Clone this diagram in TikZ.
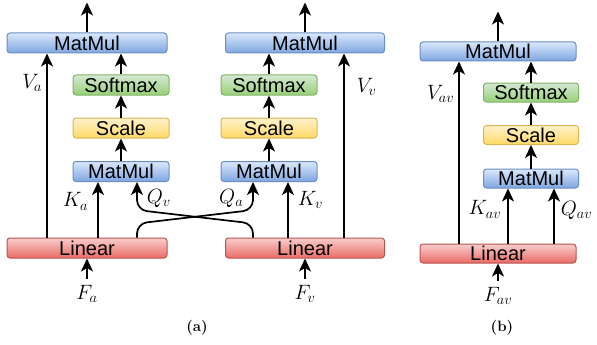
\documentclass[tikz,border=0pt]{standalone}
\usepackage{fontspec}
\newfontfamily\boxfont{Liberation Sans}
\usetikzlibrary{positioning, calc, arrows.meta}

\definecolor{mmTop}{HTML}{DAE8FC}
\definecolor{mmBot}{HTML}{7EA6E0}
\definecolor{mmLine}{HTML}{6C8EBF}
\definecolor{smTop}{HTML}{D5E8D4}
\definecolor{smBot}{HTML}{97D077}
\definecolor{smLine}{HTML}{82B366}
\definecolor{scTop}{HTML}{FFF2CC}
\definecolor{scBot}{HTML}{FFD966}
\definecolor{scLine}{HTML}{D6B656}
\definecolor{linTop}{HTML}{F8CECC}
\definecolor{linBot}{HTML}{EA6B66}
\definecolor{linLine}{HTML}{B85450}

\begin{document}
\begin{tikzpicture}[
    x=1pt, y=-1pt,
    on grid,
    box/.style={rounded corners=3pt, line width=1pt, minimum height=20pt, inner sep=0pt,
        text height=14.3pt, text depth=0pt, font=\boxfont\fontsize{20}{24}\selectfont},
    mmbox/.style={box, draw=mmLine, top color=mmTop, bottom color=mmBot, minimum width=96pt},
    smbox/.style={box, draw=smLine, top color=smTop, bottom color=smBot, minimum width=96pt},
    scbox/.style={box, draw=scLine, top color=scTop, bottom color=scBot, minimum width=96pt},
    linbox/.style={box, draw=linLine, top color=linTop, bottom color=linBot, minimum width=160pt},
    tag/.style={inner sep=0pt, font=\fontsize{20}{24}\selectfont},
    arr/.style={-{Stealth[length=13pt, width=12pt, inset=3.5pt]}, line width=1.7pt},
    captag/.style={font=\bfseries\fontsize{15}{18}\selectfont}
]
   \useasboundingbox (0,0) rectangle (597,345);

   % (a) audio branch
   \node[mmbox, minimum width=160pt] (outA) at (87,43) {MatMul};
   \node[smbox] (smA) [below right=42pt and 34pt of outA] {Softmax};
   \node[scbox] (scA) [below=43pt of smA] {Scale};
   \node[mmbox] (mmA) [below=43.5pt of scA] {MatMul};
   \node[linbox] (linA) [below=205pt of outA] {Linear};
   \node[tag, inner sep=6pt] (fA) [below=46pt of linA] {$F_a$};

   % (a) video branch
   \node[mmbox, minimum width=159pt] (outV) at (305,43) {MatMul};
   \node[smbox] (smV) [below left=42pt and 36pt of outV] {Softmax};
   \node[scbox] (scV) [below=43pt of smV] {Scale};
   \node[mmbox] (mmV) [below=43.5pt of scV] {MatMul};
   \node[linbox, minimum width=159pt] (linV) [below=205pt of outV] {Linear};
   \node[tag, inner sep=6pt] (fV) [below=46pt of linV] {$F_v$};

   % (b) joint branch
   \node[mmbox, minimum width=156pt, minimum height=19pt] (outAV) at (498,51.5) {MatMul};
   \node[smbox, minimum width=95pt, minimum height=19pt] (smAV) [below right=41pt and 33pt of outAV] {Softmax};
   \node[scbox, minimum width=95pt, minimum height=19pt] (scAV) [below=42.5pt of smAV] {Scale};
   \node[mmbox, minimum width=95pt, minimum height=19pt] (mmAV) [below=43.5pt of scAV] {MatMul};
   \node[linbox, minimum width=156pt, minimum height=19pt] (linAV) [below=202pt of outAV] {Linear};
   \node[tag, inner sep=6pt] (fAV) [below=42.5pt of linAV] {$F_{av}$};

   % captions
   \node[captag] (capA) at (197,328) {(a)};
   \node[captag] (capB) at (502,328) {(b)};

   % free ends and entry points
   \coordinate[above=30pt of outA.north] (upA);
   \coordinate[above=30pt of outV.north] (upV);
   \coordinate[above=30pt of outAV.north] (upAV);
   \coordinate (vA) at ($(outA.south)+(-40,0)$);
   \coordinate (kA) at ($(mmA.south)+(-23,0)$);
   \coordinate (qA) at ($(mmA.south)+(16,0)$);
   \coordinate (qV) at ($(mmV.south)+(-16,0)$);
   \coordinate (kV) at ($(mmV.south)+(19,0)$);
   \coordinate (vV) at ($(outV.south)+(39,0)$);
   \coordinate (vAV) at ($(outAV.south)+(-39,0)$);
   \coordinate (kAV) at ($(mmAV.south)+(-23,0)$);
   \coordinate (qAV) at ($(mmAV.south)+(23,0)$);

   % stacks
   \foreach \s in {A, V, AV} {
      \draw[arr] (mm\s) -- (sc\s);
      \draw[arr] (sc\s) -- (sm\s);
      \draw[arr] (sm\s.north) -- (sm\s.north |- out\s.south);
      \draw[arr] (out\s) -- (up\s);
      \draw[arr] (f\s) -- (lin\s);
   }

   % keys and values
   \draw[arr] (linA.north -| vA) -- node[tag, left=4pt, pos=.84] {$V_a$} (vA);
   \draw[arr] (linA.north -| kA) -- node[tag, left=9pt, pos=.65] {$K_a$} (kA);
   \draw[arr] (linV.north -| kV) -- node[tag, right=9pt, pos=.68] {$K_v$} (kV);
   \draw[arr] (linV.north -| vV) -- node[tag, right=12pt, pos=.82] {$V_v$} (vV);
   \draw[arr] (linAV.north -| vAV) -- node[tag, left=4pt, pos=.82] {$V_{av}$} (vAV);
   \draw[arr] (linAV.north -| kAV) -- node[tag, left=6pt, pos=.62] {$K_{av}$} (kAV);
   \draw[arr] (linAV.north -| qAV) -- node[tag, right=6pt, pos=.61] {$Q_{av}$} (qAV);

   % crossed queries
   \draw[arr, rounded corners=10pt] (linV.north -| qV) -- ++(0,-14) -- ($(qA)+(0,28)$)
      -- node[tag, right=9pt, pos=.4] {$Q_v$} (qA);
   \draw[arr, rounded corners=10pt] (linA.north -| qA) -- ++(0,-14) -- ($(qV)+(0,28)$)
      -- node[tag, left=9pt, pos=.4] {$Q_a$} (qV);
\end{tikzpicture}
\end{document}
